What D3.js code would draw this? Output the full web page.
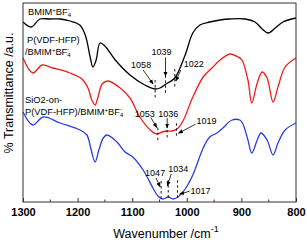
<!DOCTYPE html>
<html>
<head>
<meta charset="utf-8">
<script src="https://cdn.jsdelivr.net/npm/d3@7"></script>
<style>
  body { margin: 0; background: #fff; }
  svg { display: block; font-family: Arial, "Liberation Sans", sans-serif; }
</style>
</head>
<body>
<div id="chart"></div>
<script>
// wavenumber (cm-1) and transmittance (a.u., offset curves)
const bmimWn = [1300,1285,1269,1251,1232,1214,1196,1186,1177,1172,1166,1159,1150,1131,1104,1077,1058,1049,1038,1022,1003,989,976,958,939,921,893,875,862,851,838,824,800];
const bmimT  = [180,175,183,183,183,181,177,167,145,135,142,159,156,142,127,117,113,114,118,124,147,169,177,180,182,183,183,180,173,169,174,180,184];

const pvdfWn = [1300,1282,1265,1245,1214,1192,1181,1174,1168,1163,1155,1144,1122,1104,1086,1067,1055,1045,1036,1027,1018,1007,989,970,954,939,921,906,899,888,881,871,862,853,842,833,820,800];
const pvdfT  = [144,129,137,134,129,123,114,102,97,104,118,121,114,104,85,72,68,70,71,71,73,81,105,125,134,142,148,145,142,122,99,119,130,124,100,115,135,144];

const sioWn = [1300,1282,1263,1232,1196,1183,1176,1168,1161,1153,1146,1128,1113,1099,1080,1062,1053,1044,1034,1025,1016,1003,989,970,958,945,934,917,903,898,888,881,871,864,853,842,833,820,800];
const sioT  = [90,77,85,79,72,67,54,40,52,64,67,60,50,45,32,14,6,3,5,3,5,13,27,54,65,69,74,82,82,79,62,49,62,69,62,47,59,72,79];

const xTicks = [1300, 1200, 1100, 1000, 900, 800];
const xMinor = [1250, 1150, 1050, 950, 850];

const bmimPeaks = [1058, 1039, 1022];
const pvdfPeaks = [1053, 1036, 1019];
const sioPeaks  = [1047, 1034, 1017];

const width = 307, height = 240;
const margin = {top: 3, right: 11, bottom: 38, left: 23};

const svg = d3.select("#chart").append("svg")
  .attr("width", width).attr("height", height);

const x = d3.scaleLinear().domain([1300, 800]).range([margin.left, width - margin.right]);
const y = d3.scaleLinear().domain([0, 199]).range([height - margin.bottom, margin.top]);

const series = [
  {wn: bmimWn, t: bmimT, color: "#000000", peaks: bmimPeaks, dash: [-9, 10],
   ann: [[-14,-21,-12,-19,-2,-5],[-4,-29,0,-27,0,-8],[19,-11,6,-8,1,3]]},
  {wn: pvdfWn, t: pvdfT, color: "#f01c1c", peaks: pvdfPeaks, dash: [-6, 9],
   ann: [[-13,-17,-7,-16,-1,-6],[1,-14,0,-13,0,-3],[30,-5,19,-5,2,4]]},
  {wn: sioWn, t: sioT, color: "#2a3ce6", peaks: sioPeaks, dash: [-17, 2],
   ann: [[-6,-22,-5,-20,-1,-11],[10,-25,3,-23,-1,-11],[23,-3,12,-6,2,-3]]}
];

const line = d3.line().curve(d3.curveCatmullRom.alpha(0.5));

// arrowhead
svg.append("defs").append("marker")
  .attr("id", "arr").attr("viewBox", "0 0 10 10")
  .attr("refX", 9).attr("refY", 5)
  .attr("markerWidth", 5).attr("markerHeight", 5)
  .attr("markerUnits", "userSpaceOnUse")
  .attr("orient", "auto")
  .append("path").attr("d", "M0,1L10,5L0,9Z").attr("fill", "#000");

series.forEach(s => {
  const pts = s.wn.map((w, i) => [x(w), y(s.t[i])]);
  svg.append("path")
    .attr("d", line(pts))
    .attr("fill", "none")
    .attr("stroke", s.color)
    .attr("stroke-width", 1.3);

  // value on the curve at a wavenumber (linear between read points)
  const at = w => {
    for (let i = 0; i < s.wn.length - 1; i++) {
      if (w <= s.wn[i] && w >= s.wn[i + 1]) {
        const f = (s.wn[i] - w) / (s.wn[i] - s.wn[i + 1]);
        return s.t[i] + f * (s.t[i + 1] - s.t[i]);
      }
    }
    return s.t[0];
  };

  s.peaks.forEach((p, i) => {
    const px = x(p), py = y(at(p));
    const a = s.ann[i];
    svg.append("line")
      .attr("x1", px).attr("x2", px)
      .attr("y1", py + s.dash[0]).attr("y2", py + s.dash[1])
      .attr("stroke", "#000").attr("stroke-width", 0.9)
      .attr("stroke-dasharray", "2.5,2.5");
    svg.append("line")
      .attr("x1", px + a[2]).attr("y1", py + a[3])
      .attr("x2", px + a[4]).attr("y2", py + a[5])
      .attr("stroke", "#000").attr("stroke-width", 0.8)
      .attr("marker-end", "url(#arr)");
    svg.append("text")
      .attr("x", px + a[0]).attr("y", py + a[1])
      .attr("text-anchor", "middle")
      .attr("font-size", 9)
      .text(p);
  });
});

// series labels
function bmim(t) {
  t.append("tspan").text("BMIM");
  t.append("tspan").attr("font-size", 6).attr("dy", -3.5).text("+");
  t.append("tspan").attr("dy", 3.5).text("BF");
  t.append("tspan").attr("font-size", 6).attr("dy", 2).text("4");
  t.append("tspan").attr("font-size", 6).attr("dx", -3.3).attr("dy", -6).text("-");
}
const lab = svg.append("g").attr("font-size", 9.3).attr("fill", "#000");
bmim(lab.append("text").attr("x", 28).attr("y", 15));
lab.append("text").attr("x", 27).attr("y", 43).text("P(VDF-HFP)");
bmim(lab.append("text").attr("x", 25).attr("y", 55).text("/"));
lab.append("text").attr("x", 25).attr("y", 103).text("SiO2-on-");
bmim(lab.append("text").attr("x", 25).attr("y", 115).text("P(VDF-HFP)/"));

// frame
svg.append("rect")
  .attr("x", margin.left).attr("y", margin.top)
  .attr("width", width - margin.left - margin.right)
  .attr("height", height - margin.top - margin.bottom)
  .attr("fill", "none").attr("stroke", "#333").attr("stroke-width", 1);

const xAxis = svg.append("g")
  .attr("transform", `translate(0,${height - margin.bottom})`)
  .call(d3.axisBottom(x).tickValues(xTicks).tickFormat(d3.format("d"))
    .tickSizeInner(-4).tickSizeOuter(0).tickPadding(6));
xAxis.select(".domain").remove();
xAxis.selectAll("line").attr("stroke", "#333");
xAxis.selectAll("text")
  .attr("font-family", "Arial, 'Liberation Sans', sans-serif")
  .attr("font-size", 11).attr("font-weight", "bold").attr("fill", "#000");

svg.append("g").selectAll("line").data(xMinor).join("line")
  .attr("x1", d => x(d)).attr("x2", d => x(d))
  .attr("y1", height - margin.bottom).attr("y2", height - margin.bottom - 2.5)
  .attr("stroke", "#333");

// axis titles
const xt = svg.append("text")
  .attr("x", 166).attr("y", 238)
  .attr("text-anchor", "middle").attr("font-size", 12.5);
xt.append("tspan").text("Wavenumber /cm");
xt.append("tspan").attr("font-size", 9).attr("dy", -6).text("-1");

svg.append("text")
  .attr("transform", "translate(13,93) rotate(-90)")
  .attr("text-anchor", "middle").attr("font-size", 12.5)
  .text("% Transmittance /a.u.");
</script>
</body>
</html>
